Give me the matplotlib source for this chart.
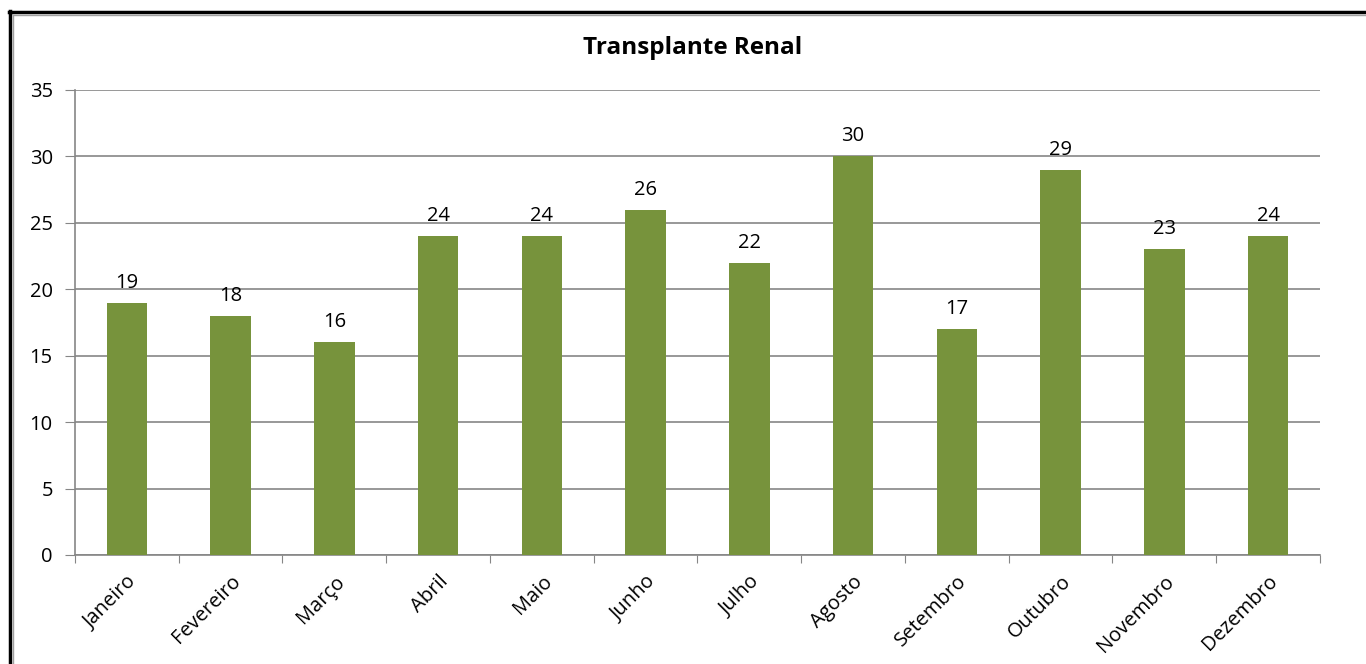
import matplotlib.pyplot as plt
import matplotlib.lines as mlines

meses = ["Janeiro", "Fevereiro", "Março", "Abril", "Maio", "Junho", "Julho",
         "Agosto", "Setembro", "Outubro", "Novembro", "Dezembro"]
transplantes = [19, 18, 16, 24, 24, 26, 22, 30, 17, 29, 23, 24]
yticks = [0, 5, 10, 15, 20, 25, 30, 35]

plt.rcParams['font.family'] = ['Open Sans', 'DejaVu Sans']

fig = plt.figure(figsize=(13.66, 6.64), dpi=100)
ax = fig.add_axes([0.0549, 0.1642, 0.9114, 0.7003])

x = list(range(len(meses)))
ax.bar(x, transplantes, width=0.39, color="#77933C", zorder=3)
for xi, v in zip(x, transplantes):
    ax.text(xi, v + 0.75, str(v), ha="center", va="bottom", fontsize=14.5)

ax.set_xlim(-0.5, len(meses) - 0.5)
ax.set_ylim(0, 35)
ax.set_yticks(yticks)
ax.tick_params(axis="y", labelsize=14.5, length=7, color="#868686", pad=9)
ax.yaxis.grid(True, color="#868686", linewidth=1.2, zorder=0)

# category ticks at the boundaries, labels centred
ax.set_xticks([i - 0.5 for i in range(len(meses) + 1)])
ax.set_xticklabels([])
ax.set_xticks(x, minor=True)
ax.set_xticklabels(meses, minor=True, rotation=45, ha="right",
                   rotation_mode="anchor", fontsize=14.5)
ax.tick_params(axis="x", which="major", length=6, color="#868686")
ax.tick_params(axis="x", which="minor", length=0, pad=12)

for s in ["top", "right"]:
    ax.spines[s].set_visible(False)
for s in ["left", "bottom"]:
    ax.spines[s].set_color("#868686")
    ax.spines[s].set_linewidth(1.2)

fig.text(0.507, 0.927, "Transplante Renal", ha="center", va="center",
         fontsize=17.5, fontweight="bold")

# outer chart border (only top and left visible in the crop)
fig.add_artist(mlines.Line2D([10 / 1366, 10 / 1366], [0, 1 - 11 / 664],
                             color="black", linewidth=2.5, transform=fig.transFigure))
fig.add_artist(mlines.Line2D([9 / 1366, 1], [1 - 12 / 664, 1 - 12 / 664],
                             color="black", linewidth=2.5, transform=fig.transFigure))
fig.add_artist(mlines.Line2D([13 / 1366, 13 / 1366], [0, 1 - 15 / 664],
                             color="#A0A0A0", linewidth=1, transform=fig.transFigure))
fig.add_artist(mlines.Line2D([13 / 1366, 1], [1 - 15 / 664, 1 - 15 / 664],
                             color="#A0A0A0", linewidth=1, transform=fig.transFigure))

fig.savefig("out.png", dpi=100)
